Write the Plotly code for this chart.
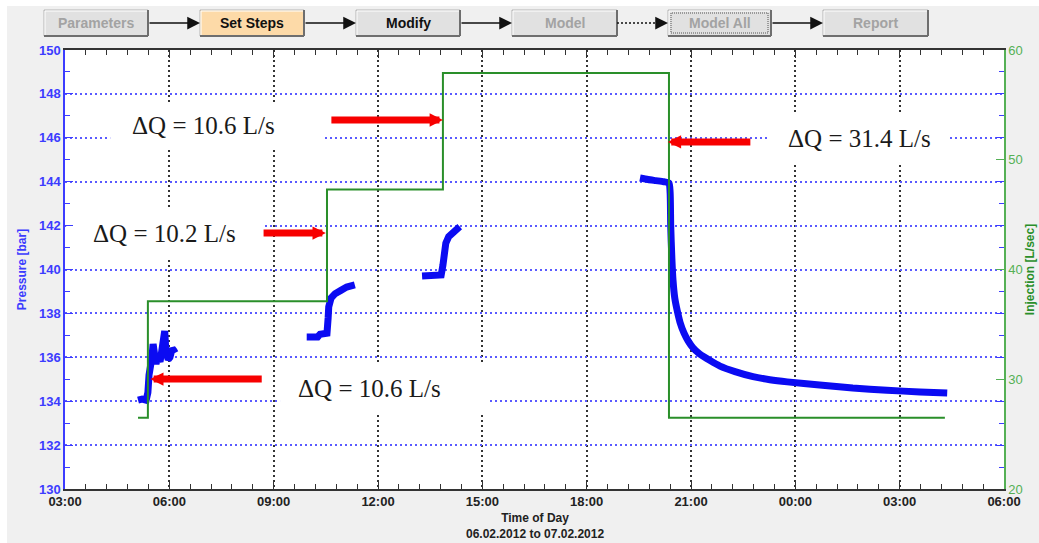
import plotly.graph_objects as go

# ---------------------------------------------------------------------------
# Data: step-rate injection test, 06.02.2012 to 07.02.2012
# ---------------------------------------------------------------------------

# Injection rate schedule (L/s), each value holds until the next time stamp
inj_time = ["2012-02-06 05:06", "2012-02-06 05:23", "2012-02-06 10:32",
            "2012-02-06 13:52", "2012-02-06 20:22", "2012-02-07 04:18"]
inj_rate = [26.5, 37.1, 47.3, 57.9, 26.5, 26.5]

# Wellhead pressure (bar), four logged periods
p1_time = ["2012-02-06 05:06", "2012-02-06 05:13", "2012-02-06 05:20", "2012-02-06 05:23",
           "2012-02-06 05:25", "2012-02-06 05:28", "2012-02-06 05:30", "2012-02-06 05:32",
           "2012-02-06 05:34", "2012-02-06 05:37", "2012-02-06 05:40", "2012-02-06 05:44",
           "2012-02-06 05:47", "2012-02-06 05:49", "2012-02-06 05:52", "2012-02-06 05:54",
           "2012-02-06 05:58", "2012-02-06 06:01", "2012-02-06 06:05", "2012-02-06 06:08",
           "2012-02-06 06:10"]
p1_bar = [134.05, 134.1, 134.05, 134.4, 135.2, 135.5, 136.0, 136.6, 136.0, 135.7, 136.0,
          135.8, 136.3, 137.0, 137.2, 136.3, 135.9, 136.0, 136.4, 136.3, 136.2]

p2_time = ["2012-02-06 09:57", "2012-02-06 10:16", "2012-02-06 10:20", "2012-02-06 10:27",
           "2012-02-06 10:32", "2012-02-06 10:34", "2012-02-06 10:35", "2012-02-06 10:39",
           "2012-02-06 10:46", "2012-02-06 10:56", "2012-02-06 11:06", "2012-02-06 11:20"]
p2_bar = [136.93, 136.93, 137.05, 137.05, 137.1, 137.8, 138.3, 138.7, 138.9, 139.05, 139.2, 139.3]

p3_time = ["2012-02-06 13:16", "2012-02-06 13:33", "2012-02-06 13:49", "2012-02-06 13:52",
           "2012-02-06 13:54", "2012-02-06 13:57", "2012-02-06 14:02", "2012-02-06 14:09",
           "2012-02-06 14:21"]
p3_bar = [139.7, 139.72, 139.75, 140.2, 140.8, 141.2, 141.5, 141.7, 141.95]

p4_time = ["2012-02-06 19:32", "2012-02-06 19:46", "2012-02-06 19:59", "2012-02-06 20:13",
           "2012-02-06 20:22", "2012-02-06 20:24", "2012-02-06 20:25", "2012-02-06 20:27",
           "2012-02-06 20:29", "2012-02-06 20:32", "2012-02-06 20:36", "2012-02-06 20:41",
           "2012-02-06 20:48", "2012-02-06 20:55", "2012-02-06 21:03", "2012-02-06 21:15",
           "2012-02-06 21:33", "2012-02-06 21:50", "2012-02-06 22:16", "2012-02-06 22:47",
           "2012-02-06 23:16", "2012-02-06 23:46", "2012-02-07 00:42", "2012-02-07 01:39",
           "2012-02-07 02:38", "2012-02-07 03:35", "2012-02-07 04:22"]
p4_bar = [144.17, 144.1, 144.05, 144.0, 143.94, 143.5, 142.0, 140.5, 139.5, 138.7, 138.15,
          137.6, 137.1, 136.75, 136.45, 136.15, 135.85, 135.6, 135.35, 135.12, 134.98,
          134.88, 134.74, 134.6, 134.5, 134.42, 134.37]

x_range = ["2012-02-06 03:00", "2012-02-07 06:00"]
x_title = "Time of Day"
x_subtitle = "06.02.2012 to 07.02.2012"

steps = ["Parameters", "Set Steps", "Modify", "Model", "Model All", "Report"]

# ---------------------------------------------------------------------------
# Colours / fonts
# ---------------------------------------------------------------------------
BLUE = "#0b0bf2"
BLUE_AX = "#3c3cff"
GREEN = "#2a8f2a"
GREEN_AX = "#55b055"
RED = "#f70000"
SANS = "Liberation Sans"
SERIF = "Liberation Serif"

W, H = 1039, 543
ML, MR, MT, MB = 65, 35, 50, 54
PW, PH = W - ML - MR, H - MT - MB


def px(x):
    return (x - ML) / PW


def py(y):
    return (H - MB - y) / PH


fig = go.Figure()

# pressure during the injection steps: raw logger points joined straight
pt, pb = [], []
for t, b in ((p1_time, p1_bar), (p2_time, p2_bar), (p3_time, p3_bar)):
    pt += t + [None]
    pb += b + [None]
fig.add_trace(go.Scatter(x=pt, y=pb, mode="lines", connectgaps=False,
                         line=dict(color=BLUE, width=7), hoverinfo="skip",
                         showlegend=False))
# fall-off period, smooth decline after shut-in
fig.add_trace(go.Scatter(x=p4_time, y=p4_bar, mode="lines",
                         line=dict(color=BLUE, width=7, shape="spline", smoothing=0.6),
                         hoverinfo="skip", showlegend=False))

# injection rate as a step line on the right axis
fig.add_trace(go.Scatter(x=inj_time, y=inj_rate, yaxis="y2", mode="lines",
                         line=dict(color=GREEN, width=2, shape="hv"),
                         hoverinfo="skip", showlegend=False))

# ---------------------------------------------------------------------------
# Rate-change labels and arrows
# ---------------------------------------------------------------------------
d1 = inj_rate[1] - inj_rate[0]
d2 = inj_rate[2] - inj_rate[1]
d3 = inj_rate[3] - inj_rate[2]
d4 = inj_rate[3] - inj_rate[4]

labels = [
    # rate change, label x, label y, white box (x0, x1, y0, y1), arrow tail, arrow tip
    (d3, "2012-02-06 06:59", 146.54, ("2012-02-06 04:18", "2012-02-06 10:28", 145.54, 147.54),
     ("2012-02-06 10:37", 146.81), ("2012-02-06 13:52", 146.81)),
    (d2, "2012-02-06 05:52", 141.66, ("2012-02-06 03:02", "2012-02-06 08:40", 140.52, 142.8),
     ("2012-02-06 08:40", 141.66), ("2012-02-06 10:30", 141.66)),
    (d1, "2012-02-06 11:46", 134.6, ("2012-02-06 09:11", "2012-02-06 15:10", 133.51, 135.74),
     ("2012-02-06 08:42", 135.01), ("2012-02-06 05:27", 135.01)),
    (d4, "2012-02-07 01:50", 145.99, ("2012-02-06 23:13", "2012-02-07 04:23", 144.9, 147.13),
     ("2012-02-06 22:45", 145.81), ("2012-02-06 20:20", 145.81)),
]

shapes = []
annotations = []
for dq, lx, ly, box, tail, tip in labels:
    shapes.append(dict(type="rect", xref="x", yref="y", layer="between",
                       x0=box[0], x1=box[1], y0=box[2], y1=box[3],
                       fillcolor="white", line=dict(width=0)))
    annotations.append(dict(xref="x", yref="y", x=lx, y=ly, showarrow=False,
                            xanchor="center", yanchor="middle",
                            text=f"ΔQ = {abs(dq):.1f} L/s",
                            font=dict(family=SERIF, size=25, color="#1a1a1a")))
    annotations.append(dict(xref="x", yref="y", axref="x", ayref="y",
                            x=tip[0], y=tip[1], ax=tail[0], ay=tail[1], text="",
                            showarrow=True, arrowhead=2, arrowsize=0.38,
                            arrowwidth=7, arrowcolor=RED, standoff=0))

# ---------------------------------------------------------------------------
# Workflow bar above the chart
# ---------------------------------------------------------------------------
btn_x = [(44, 148), (200, 304), (356, 460), (512, 617), (668, 771), (823, 928)]
btn_fill = ["#e1e1e1", "#fddaa8", "#e1e1e1", "#e1e1e1", "#e1e1e1", "#e1e1e1"]
btn_text = ["#a3a3a3", "#111111", "#111111", "#a3a3a3", "#a3a3a3", "#a3a3a3"]
BY0, BY1 = 10, 36

for (x0, x1), name, fc, tc in zip(btn_x, steps, btn_fill, btn_text):
    shapes.append(dict(type="rect", xref="paper", yref="paper", layer="above",
                       x0=px(x0), x1=px(x1), y0=py(BY1), y1=py(BY0),
                       fillcolor=fc, line=dict(color="#b4b4b4", width=1)))
    # raised-button shading
    shapes.append(dict(type="line", xref="paper", yref="paper", layer="above",
                       x0=px(x0 + 1), x1=px(x1 - 1), y0=py(BY0 + 1), y1=py(BY0 + 1),
                       line=dict(color="#ffffff", width=1)))
    shapes.append(dict(type="line", xref="paper", yref="paper", layer="above",
                       x0=px(x0 + 1), x1=px(x0 + 1), y0=py(BY0 + 1), y1=py(BY1 - 1),
                       line=dict(color="#ffffff", width=1)))
    shapes.append(dict(type="line", xref="paper", yref="paper", layer="above",
                       x0=px(x0), x1=px(x1), y0=py(BY1), y1=py(BY1),
                       line=dict(color="#6e6e6e", width=2)))
    shapes.append(dict(type="line", xref="paper", yref="paper", layer="above",
                       x0=px(x1), x1=px(x1), y0=py(BY0), y1=py(BY1),
                       line=dict(color="#6e6e6e", width=2)))
    annotations.append(dict(xref="paper", yref="paper", x=px((x0 + x1) / 2),
                            y=py((BY0 + BY1) / 2), xanchor="center", yanchor="middle",
                            text=name, showarrow=False,
                            font=dict(family=SANS, size=14, color=tc, weight="bold")))

# focus rectangle on "Model All"
shapes.append(dict(type="rect", xref="paper", yref="paper", layer="above",
                   x0=px(btn_x[4][0] + 3), x1=px(btn_x[4][1] - 3),
                   y0=py(BY1 - 3), y1=py(BY0 + 3),
                   line=dict(color="#555555", width=1, dash="1px,1px")))

# connectors between the buttons
BYM = (BY0 + BY1) / 2
for i in range(len(btn_x) - 1):
    tail = btn_x[i][1]
    tip = btn_x[i + 1][0]
    if steps[i + 1] == "Model All":
        shapes.append(dict(type="line", xref="paper", yref="paper", layer="above",
                           x0=px(tail), x1=px(tip - 10), y0=py(BYM), y1=py(BYM),
                           line=dict(color="#111111", width=1.5, dash="2px,2px")))
        tail = tip - 12
    annotations.append(dict(xref="paper", yref="paper", x=px(tip), y=py(BYM),
                            ax=-(tip - tail), ay=0, text="", showarrow=True,
                            arrowhead=2, arrowsize=1.7, arrowwidth=1.5,
                            arrowcolor="#111111", standoff=0))

# white margin strips along the top and left edge of the window
shapes.append(dict(type="rect", xref="paper", yref="paper", layer="above",
                   x0=px(0), x1=px(W), y0=py(6), y1=py(0),
                   fillcolor="white", line=dict(width=0)))
shapes.append(dict(type="rect", xref="paper", yref="paper", layer="above",
                   x0=px(0), x1=px(7), y0=py(H), y1=py(0),
                   fillcolor="white", line=dict(width=0)))

# x-axis title (two lines)
annotations.append(dict(xref="paper", yref="paper", x=0.5, y=py(526),
                        xanchor="center", yanchor="middle",
                        text=f"{x_title}<br>{x_subtitle}", showarrow=False,
                        font=dict(family=SANS, size=12, color="#222222", weight="bold")))

HOUR = 3600 * 1000
fig.update_layout(
    template="none",
    width=W, height=H,
    margin=dict(l=ML, r=MR, t=MT, b=MB, pad=0),
    paper_bgcolor="#f0f0f0",
    plot_bgcolor="white",
    font=dict(family=SANS, size=13),
    showlegend=False,
    xaxis=dict(
        type="date", range=x_range, automargin=False,
        tick0="2012-02-06 03:00", dtick=3 * HOUR, tickformat="%H:%M",
        ticks="inside", ticklen=8, tickwidth=1.2, tickcolor="#333333",
        minor=dict(tick0="2012-02-06 03:00", dtick=int(0.6 * HOUR), ticks="inside",
                   ticklen=5, tickwidth=1, tickcolor="#333333", showgrid=False),
        showline=True, linecolor="#333333", linewidth=1.5, mirror="ticks",
        showgrid=True, gridcolor="#333333", gridwidth=1.5, griddash="2px,3px",
        zeroline=False,
        tickfont=dict(family=SANS, size=13, color="#222222", weight="bold"),
    ),
    yaxis=dict(
        range=[130, 150], automargin=False,
        tick0=130, dtick=2, ticks="inside", ticklen=8, tickwidth=1.2, tickcolor=BLUE_AX,
        minor=dict(dtick=1, ticks="inside", ticklen=5, tickwidth=1, tickcolor=BLUE_AX,
                   showgrid=False),
        showline=True, linecolor=BLUE_AX, linewidth=1.5, mirror="ticks",
        showgrid=True, gridcolor="#5a5aff", gridwidth=1.5, griddash="2px,3px",
        zeroline=False,
        tickfont=dict(family=SANS, size=13, color=BLUE_AX, weight="bold"),
        title=dict(text="Pressure [bar]", standoff=10,
                   font=dict(family=SANS, size=12, color=BLUE_AX, weight="bold")),
    ),
    yaxis2=dict(
        range=[20, 60], overlaying="y", side="right", automargin=False,
        tickvals=[20, 30, 40, 50, 60], ticks="inside", ticklen=8, tickwidth=1.2,
        tickcolor=GREEN_AX,
        showline=True, linecolor=GREEN_AX, linewidth=1.5,
        showgrid=False, zeroline=False,
        tickfont=dict(family=SANS, size=13, color=GREEN_AX),
        title=dict(text="Injection [L/sec]", standoff=4,
                   font=dict(family=SANS, size=12, color=GREEN, weight="bold")),
    ),
    shapes=shapes,
    annotations=annotations,
)

fig.write_html("out.html")
